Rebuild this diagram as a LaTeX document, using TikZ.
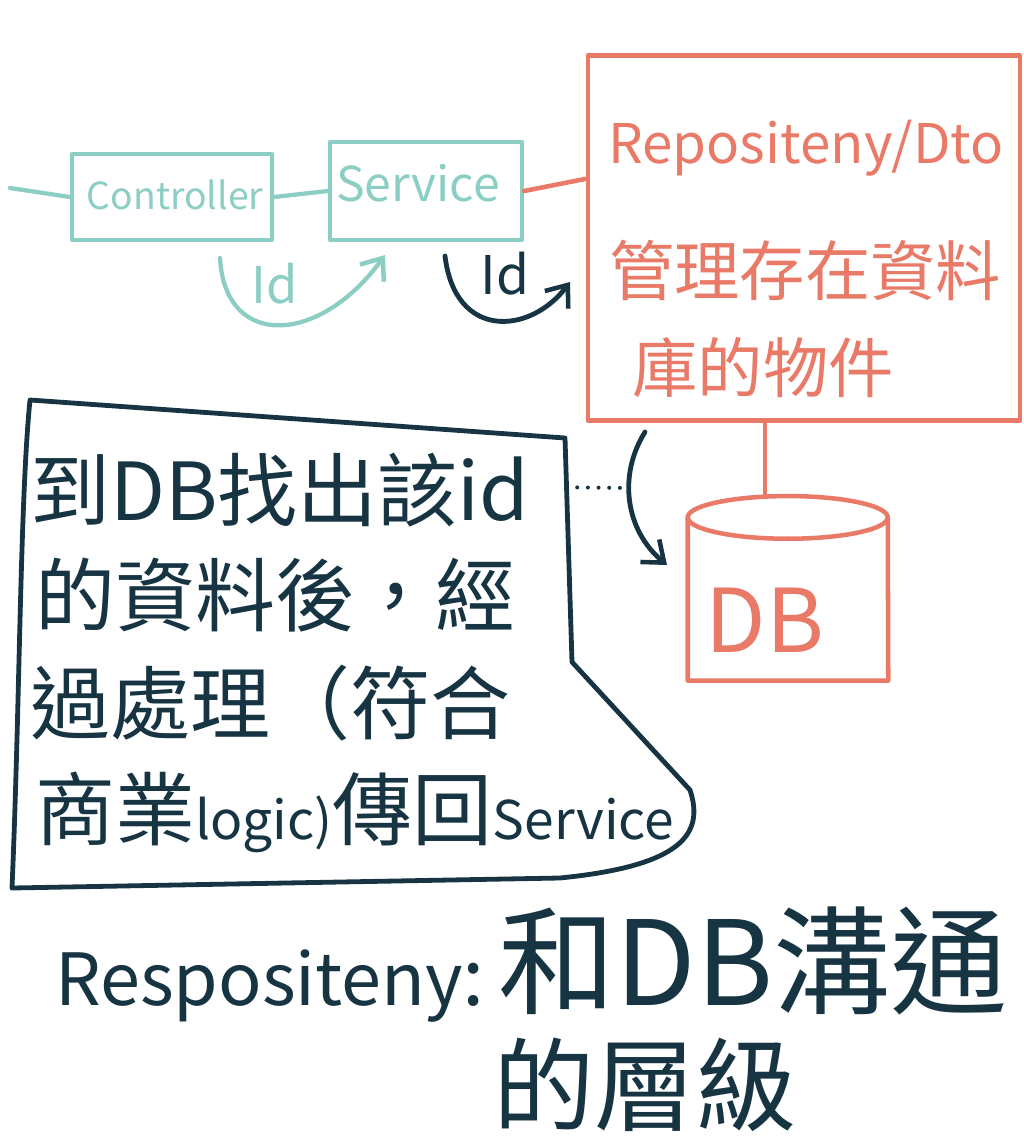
\documentclass[tikz,border=0pt]{standalone}
\usepackage{fontspec}
\setmainfont{Noto Sans CJK TC}
\usetikzlibrary{arrows.meta,calc}
\definecolor{tealc}{RGB}{140,206,196}
\definecolor{orangec}{RGB}{234,122,104}
\definecolor{darkc}{RGB}{22,52,66}
\newcommand{\fs}[1]{\fontsize{#1}{#1}\selectfont}
\begin{document}
\begin{tikzpicture}[x=0.75pt,y=-0.75pt,
  line cap=round,line join=round,
  tealline/.style={draw=tealc,line width=3.2pt},
  orangeline/.style={draw=orangec,line width=3.4pt},
  darkline/.style={draw=darkc,line width=3.6pt},
  boxnode/.style={rectangle,inner sep=0pt},
  txt/.style={inner sep=0pt},
  barb/.style={-{Straight Barb[length=14pt,width=22pt,line width=3.4pt]}}
]
\useasboundingbox (0,0) rectangle (1024,1146);
% --- teal part
\coordinate (lin) at (10,188);
\node[boxnode,tealline,minimum width=150pt,minimum height=64pt] (controller) at (172,197) {};
\node[boxnode,tealline,minimum width=144pt,minimum height=73pt] (service) at (426,191) {};
\node[txt,text=tealc,font=\fs{28}] (ctrltxt) at (175,195) {Controller};
\node[txt,text=tealc,font=\fs{36}] (servtxt) at (418,183) {Service};
\draw[tealline] (lin) -- (controller.west);
\draw[tealline] (controller.east) -- (service.west);
% teal Id arrow
\coordinate (tstart) at (220,258);
\coordinate (tend) at (385,255);
\draw[tealline,barb] (tstart) .. controls (225,350) and (320,345) .. (tend);
\node[txt,text=tealc,font=\fs{38}] (tid) at (275,284) {Id};
% --- orange part
\node[boxnode,orangeline,minimum width=324pt,minimum height=274pt] (repo) at (804,238) {};
\draw[orangeline] (service.east) -- ($(repo.north west)!0.34!(repo.south west)$);
\node[txt,text=orangec,font=\fs{41}] (repotxt) at (806,148) {Repositeny/Dto};
\node[txt,text=orangec,font=\fs{49}] (repocn1) at (805,270) {管理存在資料};
\node[txt,text=orangec,font=\fs{49}] (repocn2) at (763,368) {庫的物件};
% DB cylinder
\node[boxnode,minimum width=150pt,minimum height=128pt] (db) at (788,595) {};
\coordinate (dbtop) at (765,497);
\draw[orangeline] (db.north west) ++(0,8) coordinate (dbtl) arc[start angle=180,end angle=0,x radius=75pt,y radius=16pt]
  coordinate (dbtr) arc[start angle=0,end angle=-180,x radius=75pt,y radius=16pt];
\draw[orangeline] (dbtl) -- (db.south west) -- (db.south east) -- (dbtr);
\draw[orangeline] (repo.south -| dbtop) -- (dbtop);
\node[txt,text=orangec,font=\fs{66}] (dbtxt) at (765,620) {DB};
% --- dark part
\coordinate (dstart) at (445,256);
\coordinate (dend) at (570,282);
\draw[darkline,barb] (dstart) .. controls (455,340) and (530,335) .. (dend);
\node[txt,text=darkc,font=\fs{40}] (did) at (505,274) {Id};
% explanation box
\coordinate (b1) at (30,400);
\coordinate (b2) at (565,438);
\coordinate (b3) at (572,662);
\coordinate (b4) at (690,790);
\coordinate (b5) at (560,878);
\coordinate (b6) at (12,888);
\draw[darkline] (b1) -- (b2) -- (b3) -- (b4) .. controls (705,835) and (680,866) .. (b5) -- (b6) .. controls (20,700) and (20,500) .. (b1);
\coordinate (dotend) at (630,488);
\draw[darkc,line width=3pt,dash pattern=on 0pt off 8pt] ($(b2)!0.22!(b3)$) -- (dotend);
\coordinate (cstart) at (645,432);
\coordinate (cend) at (667,565);
\draw[darkline,barb] (cstart) .. controls (618,475) and (625,530) .. (cend);
\node[txt,text=darkc,font=\fs{60},anchor=west] (l1) at (30,490) {到DB找出該id};
\node[txt,text=darkc,font=\fs{60},anchor=west] (l2) at (35,595) {的資料後，經};
\node[txt,text=darkc,font=\fs{60},anchor=west] (l3) at (30,703) {過處理（符合};
\node[txt,text=darkc,font=\fs{60},anchor=west] (l4) at (35,812) {商業{\fs{40}logic)}傳回{\fs{40}Service}};
% bottom caption
\node[txt,text=darkc,anchor=west] (cap1) at (55,965) {{\fs{54}Respositeny}{\fs{60}:\,}{\fs{88}和DB溝通}};
\node[txt,text=darkc,font=\fs{76}] (cap2) at (645,1085) {的層級};
\end{tikzpicture}
\end{document}
